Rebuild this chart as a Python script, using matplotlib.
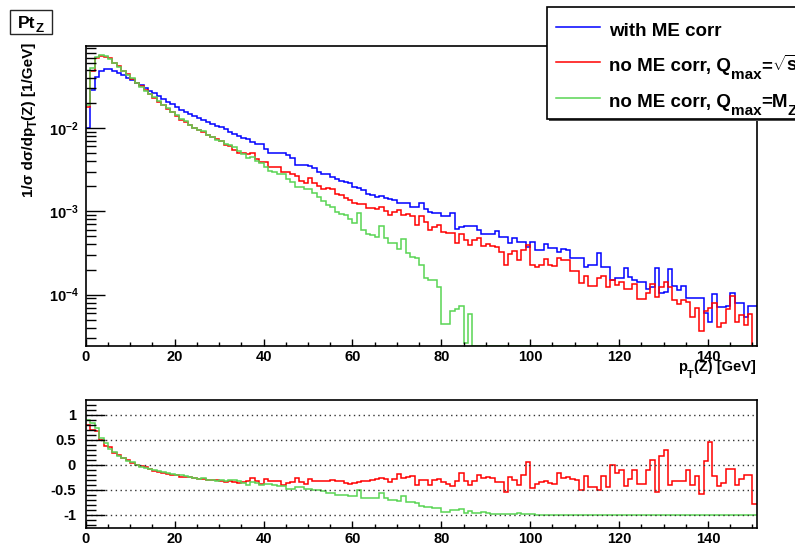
import matplotlib
matplotlib.use('Agg')
import matplotlib.pyplot as plt
from matplotlib.ticker import MultipleLocator, LogLocator, FuncFormatter, NullFormatter
from matplotlib.patches import Rectangle
from matplotlib.lines import Line2D
import numpy as np

plt.rcParams['font.family'] = ['Liberation Sans', 'DejaVu Sans']
plt.rcParams['font.weight'] = 'bold'
plt.rcParams['mathtext.fontset'] = 'custom'
plt.rcParams['mathtext.rm'] = 'Liberation Sans:bold'
plt.rcParams['mathtext.it'] = 'Liberation Sans:bold'
plt.rcParams['mathtext.bf'] = 'Liberation Sans:bold'
plt.rcParams['mathtext.sf'] = 'Liberation Sans:bold'

# 1 GeV bins, 0..151 GeV
BIN_EDGES = np.arange(0, 152)

# 1/sigma dsigma/dpT(Z) [1/GeV]
ME_CORR = [
    1.00e-2, 2.86e-2, 4.13e-2, 4.88e-2, 5.15e-2, 5.06e-2, 4.88e-2, 4.61e-2, 4.29e-2, 4.02e-2,
    3.77e-2, 3.50e-2, 3.25e-2, 3.02e-2, 2.81e-2, 2.61e-2, 2.42e-2, 2.25e-2, 2.07e-2, 1.92e-2,
    1.79e-2, 1.64e-2, 1.57e-2, 1.47e-2, 1.39e-2, 1.33e-2, 1.25e-2, 1.18e-2, 1.12e-2, 1.06e-2,
    1.02e-2, 9.64e-3, 9.04e-3, 8.47e-3, 8.02e-3, 7.66e-3, 7.31e-3, 6.85e-3, 6.37e-3, 6.37e-3,
    5.55e-3, 4.97e-3, 4.97e-3, 4.97e-3, 4.97e-3, 4.74e-3, 4.33e-3, 3.60e-3, 3.60e-3, 3.60e-3,
    3.53e-3, 3.28e-3, 2.99e-3, 2.78e-3, 2.78e-3, 2.61e-3, 2.42e-3, 2.31e-3, 2.27e-3, 2.21e-3,
    1.98e-3, 1.89e-3, 1.80e-3, 1.61e-3, 1.57e-3, 1.50e-3, 1.54e-3, 1.43e-3, 1.39e-3, 1.37e-3,
    1.25e-3, 1.25e-3, 1.25e-3, 1.14e-3, 1.14e-3, 1.25e-3, 1.06e-3, 9.91e-4, 9.46e-4, 9.46e-4,
    8.79e-4, 8.79e-4, 9.64e-4, 6.14e-4, 6.43e-4, 6.67e-4, 6.67e-4, 6.67e-4, 5.97e-4, 5.30e-4,
    5.30e-4, 5.30e-4, 5.81e-4, 4.97e-4, 4.97e-4, 4.13e-4, 4.74e-4, 4.33e-4, 4.33e-4, 3.77e-4,
    4.33e-4, 3.44e-4, 3.44e-4, 4.02e-4, 3.60e-4, 3.60e-4, 3.28e-4, 3.53e-4, 3.44e-4, 2.73e-4,
    2.73e-4, 2.73e-4, 2.17e-4, 2.27e-4, 2.27e-4, 3.13e-4, 2.17e-4, 2.17e-4, 1.50e-4, 1.57e-4,
    1.57e-4, 2.07e-4, 1.64e-4, 1.50e-4, 1.43e-4, 1.43e-4, 1.16e-4, 1.25e-4, 2.07e-4, 1.04e-4,
    1.09e-4, 2.03e-4, 1.27e-4, 1.14e-4, 1.28e-4, 9.04e-5, 9.04e-5, 9.04e-5, 9.04e-5, 5.97e-5,
    4.74e-5, 1.02e-4, 7.18e-5, 7.18e-5, 7.24e-5, 1.06e-4, 7.87e-5, 8.02e-5, 5.45e-5, 7.38e-5,
    7.38e-5,
]

NO_ME_SQRT_S = [
    1.80e-2, 4.86e-2, 6.90e-2, 7.32e-2, 7.06e-2, 6.83e-2, 6.00e-2, 5.49e-2, 4.85e-2, 4.42e-2,
    3.88e-2, 3.50e-2, 3.15e-2, 2.87e-2, 2.56e-2, 2.27e-2, 2.06e-2, 1.87e-2, 1.70e-2, 1.54e-2,
    1.41e-2, 1.25e-2, 1.18e-2, 1.10e-2, 1.01e-2, 9.58e-3, 9.00e-3, 8.26e-3, 7.84e-3, 7.31e-3,
    6.94e-3, 6.27e-3, 6.06e-3, 5.51e-3, 5.05e-3, 4.98e-3, 4.90e-3, 5.00e-3, 4.27e-3, 3.89e-3,
    3.94e-3, 3.38e-3, 3.38e-3, 3.38e-3, 2.98e-3, 2.99e-3, 2.81e-3, 2.63e-3, 2.34e-3, 2.20e-3,
    2.54e-3, 2.20e-3, 2.03e-3, 1.86e-3, 1.89e-3, 1.83e-3, 1.62e-3, 1.57e-3, 1.43e-3, 1.35e-3,
    1.25e-3, 1.23e-3, 1.21e-3, 1.09e-3, 1.10e-3, 1.08e-3, 1.12e-3, 1.02e-3, 9.04e-4, 9.73e-4,
    1.03e-3, 9.13e-4, 9.38e-4, 8.78e-4, 6.84e-4, 8.75e-4, 7.42e-4, 5.95e-4, 6.53e-4, 6.81e-4,
    5.71e-4, 5.45e-4, 5.49e-4, 4.11e-4, 5.34e-4, 4.54e-4, 3.94e-4, 4.54e-4, 4.78e-4, 3.87e-4,
    4.03e-4, 3.87e-4, 3.78e-4, 3.23e-4, 2.24e-4, 3.10e-4, 3.32e-4, 2.60e-4, 3.46e-4, 3.96e-4,
    2.29e-4, 2.13e-4, 2.24e-4, 2.69e-4, 2.27e-4, 2.20e-4, 2.72e-4, 2.58e-4, 2.61e-4, 1.94e-4,
    1.91e-4, 1.37e-4, 1.67e-4, 1.27e-4, 1.27e-4, 1.57e-4, 1.67e-4, 1.22e-4, 1.50e-4, 1.30e-4,
    1.40e-4, 1.18e-4, 1.16e-4, 1.35e-4, 8.87e-5, 8.87e-5, 1.04e-4, 1.36e-4, 9.32e-5, 1.22e-4,
    1.41e-4, 1.22e-4, 8.51e-5, 7.64e-5, 8.58e-5, 8.14e-5, 5.33e-5, 6.96e-5, 3.71e-5, 6.39e-5,
    6.87e-5, 7.85e-5, 4.09e-5, 4.52e-5, 6.66e-5, 9.75e-5, 4.64e-5, 5.77e-5, 4.36e-5, 5.90e-5,
    1.55e-5,
]

NO_ME_MZ = [
    1.90e-2, 5.23e-2, 7.14e-2, 7.47e-2, 7.36e-2, 6.68e-2, 6.10e-2, 5.44e-2, 4.85e-2, 4.34e-2,
    3.96e-2, 3.47e-2, 3.09e-2, 2.81e-2, 2.56e-2, 2.35e-2, 2.13e-2, 1.91e-2, 1.72e-2, 1.56e-2,
    1.43e-2, 1.30e-2, 1.21e-2, 1.10e-2, 1.01e-2, 9.44e-3, 9.13e-3, 8.26e-3, 7.84e-3, 7.21e-3,
    7.04e-3, 6.46e-3, 6.24e-3, 5.93e-3, 5.37e-3, 4.83e-3, 4.39e-3, 4.45e-3, 4.01e-3, 3.82e-3,
    3.39e-3, 3.03e-3, 2.93e-3, 2.83e-3, 2.83e-3, 2.46e-3, 2.25e-3, 1.98e-3, 1.98e-3, 1.87e-3,
    1.84e-3, 1.64e-3, 1.50e-3, 1.33e-3, 1.20e-3, 1.12e-3, 9.68e-4, 9.24e-4, 9.08e-4, 8.18e-4,
    7.33e-4, 9.45e-4, 5.94e-4, 5.31e-4, 5.18e-4, 4.95e-4, 6.62e-4, 4.72e-4, 4.17e-4, 4.11e-4,
    3.50e-4, 4.63e-4, 3.13e-4, 2.85e-4, 2.74e-4, 2.25e-4, 1.59e-4, 1.49e-4, 1.50e-4, 1.25e-4,
    4.40e-5, 4.40e-5, 6.30e-5, 6.80e-5, 7.40e-5, 2.60e-5, 5.80e-5,
] + [0.0] * 64

# (h - h_MEcorr) / h_MEcorr
RATIO_SQRT_S = [
    0.80, 0.70, 0.67, 0.50, 0.37, 0.35, 0.23, 0.19, 0.13, 0.10,
    0.03, 0.00, -0.03, -0.05, -0.09, -0.13, -0.15, -0.17, -0.18, -0.20,
    -0.21, -0.24, -0.25, -0.25, -0.27, -0.28, -0.28, -0.30, -0.30, -0.31,
    -0.32, -0.35, -0.33, -0.35, -0.37, -0.35, -0.33, -0.27, -0.33, -0.39,
    -0.29, -0.32, -0.32, -0.32, -0.40, -0.37, -0.35, -0.27, -0.35, -0.39,
    -0.28, -0.33, -0.32, -0.33, -0.32, -0.30, -0.33, -0.32, -0.37, -0.39,
    -0.37, -0.35, -0.33, -0.32, -0.30, -0.28, -0.27, -0.29, -0.35, -0.29,
    -0.18, -0.27, -0.25, -0.23, -0.40, -0.30, -0.30, -0.40, -0.31, -0.28,
    -0.35, -0.38, -0.43, -0.33, -0.17, -0.32, -0.41, -0.32, -0.20, -0.27,
    -0.24, -0.27, -0.35, -0.35, -0.55, -0.25, -0.30, -0.40, -0.20, 0.05,
    -0.47, -0.38, -0.35, -0.33, -0.37, -0.39, -0.17, -0.27, -0.24, -0.29,
    -0.30, -0.50, -0.23, -0.44, -0.44, -0.50, -0.23, -0.44, 0.00, -0.17,
    -0.11, -0.43, -0.29, -0.10, -0.38, -0.38, -0.10, 0.09, -0.55, 0.17,
    0.29, -0.40, -0.33, -0.33, -0.33, -0.10, -0.41, -0.23, -0.59, 0.07,
    0.45, -0.23, -0.43, -0.37, -0.08, -0.08, -0.41, -0.28, -0.20, -0.20,
    -0.79,
]

RATIO_MZ = [
    0.90, 0.83, 0.73, 0.53, 0.43, 0.32, 0.25, 0.18, 0.13, 0.08,
    0.05, -0.01, -0.05, -0.07, -0.09, -0.10, -0.12, -0.15, -0.17, -0.19,
    -0.20, -0.21, -0.23, -0.25, -0.27, -0.29, -0.27, -0.30, -0.30, -0.32,
    -0.31, -0.33, -0.31, -0.30, -0.33, -0.37, -0.40, -0.35, -0.37, -0.40,
    -0.39, -0.39, -0.41, -0.43, -0.43, -0.48, -0.48, -0.45, -0.45, -0.48,
    -0.48, -0.50, -0.50, -0.52, -0.57, -0.57, -0.60, -0.60, -0.60, -0.63,
    -0.63, -0.50, -0.67, -0.67, -0.67, -0.67, -0.57, -0.67, -0.70, -0.70,
    -0.72, -0.63, -0.75, -0.75, -0.76, -0.82, -0.85, -0.85, -0.87, -0.87,
    -0.95, -0.95, -0.91, -0.91, -0.89, -0.97, -0.92, -0.97, -0.97, -0.95,
    -0.96, -0.98, -0.98, -0.98, -0.99, -0.99, -0.99, -0.97, -0.99, -0.98,
    -0.99,
] + [-1.0] * 50

BLUE, RED, GREEN = '#0000ff', '#ff0000', '#59d454'

# text as (string, size, drop in px) pieces, ROOT-style low subscripts
LEGEND = [
    (BLUE, [('with ME corr', 13.5, 0)]),
    (RED, [('no ME corr, Q', 13.5, 0), ('max', 11, 8), ('=', 13.5, 0), (r'$\sqrt{s}$', 13.5, 0)]),
    (GREEN, [('no ME corr, Q', 13.5, 0), ('max', 11, 8), ('=M', 13.5, 0), ('Z', 11, 8)]),
]
TITLE = [('Pt', 12.5, 0), ('Z', 9.5, 4.5)]
X_TITLE = [('p', 10.5, 0), ('T', 8, 7), ('(Z) [GeV]', 10.5, 0)]
Y_TITLE = [('1/σ dσ/dp', 11, 0), ('T', 8.5, 3), ('(Z) [1/GeV]', 11, 0)]

Y_MIN, Y_MAX = 2.42e-5, 9.73e-2
R_MIN, R_MAX = -1.27, 1.29

W, H = 795, 547
fig = plt.figure(figsize=(W / 100, H / 100), dpi=100)
ax = fig.add_axes([0.1079, 0.3675, 0.8442, 0.549])
axr = fig.add_axes([0.1079, 0.0347, 0.8442, 0.2335])
renderer = fig.canvas.get_renderer()


def fx(px):
    return px / W


def fy(py):
    return 1 - py / H


def draw_pieces(x, y, pieces, rotation=0, zorder=7):
    """Lay text pieces along one baseline; pixel coords from the top-left."""
    for txt, size, drop in pieces:
        pos = (fx(x), fy(y + drop)) if rotation == 0 else (fx(x + drop), fy(y))
        t = fig.text(*pos, txt, fontsize=size, ha='left', va='baseline',
                     rotation=rotation, rotation_mode='anchor', zorder=zorder)
        ext = t.get_window_extent(renderer)
        if rotation == 0:
            x += ext.width
        else:
            y -= ext.height


# --- upper pad: spectra ---
for vals, col in [(ME_CORR, BLUE), (NO_ME_SQRT_S, RED), (NO_ME_MZ, GREEN)]:
    # empty / tiny bins sit on the frame like ROOT draws them
    ax.stairs(np.clip(vals, Y_MIN, None), BIN_EDGES, color=col, lw=1.1, baseline=None)

ax.set_yscale('log')
ax.set_xlim(0, 151)
ax.set_ylim(Y_MIN, Y_MAX)
ax.yaxis.set_major_locator(LogLocator(base=10))
ax.yaxis.set_minor_locator(LogLocator(base=10, subs=np.arange(2, 10)))
ax.yaxis.set_major_formatter(FuncFormatter(lambda v, p: r'$10^{%d}$' % round(np.log10(v))))
ax.yaxis.set_minor_formatter(NullFormatter())

# --- lower pad: relative difference ---
axr.stairs(RATIO_SQRT_S, BIN_EDGES, color=RED, lw=1.1, baseline=None)
axr.stairs(RATIO_MZ, BIN_EDGES, color=GREEN, lw=1.1, baseline=None)
axr.set_xlim(0, 151)
axr.set_ylim(R_MIN, R_MAX)
axr.yaxis.set_major_locator(MultipleLocator(0.5))
axr.yaxis.set_minor_locator(MultipleLocator(0.1))
axr.yaxis.set_major_formatter(FuncFormatter(lambda v, p: '%g' % v))
axr.grid(axis='y', which='major', linestyle=(0, (1, 2.5)), color='0.2', lw=1.0)

for a in (ax, axr):
    a.xaxis.set_major_locator(MultipleLocator(20))
    a.xaxis.set_minor_locator(MultipleLocator(5))
    a.tick_params(axis='x', which='major', direction='in', length=5, width=1, labelsize=10.5, pad=3)
    a.tick_params(axis='x', which='minor', direction='in', length=3, width=1)
    a.tick_params(axis='y', which='major', direction='in', length=14, width=1, labelsize=10.5, pad=5)
    a.tick_params(axis='y', which='minor', direction='in', length=7, width=1)
    for s in a.spines.values():
        s.set_linewidth(1.2)

axr.tick_params(axis='y', which='major', pad=7)

# axis titles
draw_pieces(678, 371, X_TITLE)
draw_pieces(33.5, 197, Y_TITLE, rotation=90)

# histogram title box
fig.patches.append(Rectangle((fx(10), fy(33.5)), fx(42), 24 / H, transform=fig.transFigure,
                             fc='white', ec='0.15', lw=1.0, zorder=5))
draw_pieces(18, 27.5, TITLE)

# legend box with a small drop shadow, running off the right edge
fig.patches.append(Rectangle((fx(549), fy(121)), fx(300), 114 / H, transform=fig.transFigure,
                             fc='0.3', ec='none', zorder=5))
fig.patches.append(Rectangle((fx(547), fy(119)), fx(300), 112 / H, transform=fig.transFigure,
                             fc='white', ec='black', lw=1.2, zorder=6))

for row, (col, pieces) in enumerate(LEGEND):
    y_line = 26.7 + 35.4 * row
    fig.add_artist(Line2D([fx(556), fx(600)], [fy(y_line), fy(y_line)],
                          transform=fig.transFigure, color=col, lw=1.1, zorder=7))
    draw_pieces(609, 36 + 35.4 * row, pieces)

fig.savefig('out.png', dpi=100)
